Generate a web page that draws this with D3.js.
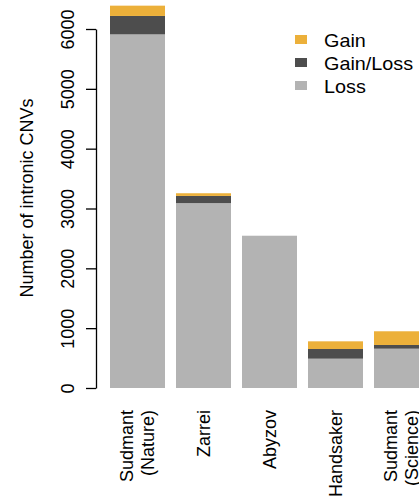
<!DOCTYPE html>
<html>
<head>
<meta charset="utf-8">
<script src="https://cdn.jsdelivr.net/npm/d3@7"></script>
<style>
  html, body { margin: 0; padding: 0; background: #fff; }
  svg text { font-family: "Liberation Sans", Arial, Helvetica, sans-serif; fill: #000; }
</style>
</head>
<body>
<svg id="chart" width="419" height="497"></svg>
<script>
// Intronic CNV counts per study, stacked by CNV type
const studies = [["Sudmant", "(Nature)"], ["Zarrei"], ["Abyzov"], ["Handsaker"], ["Sudmant", "(Science)"]];
const lossValues = [5910, 3090, 2545, 490, 657];
const gainLossValues = [308, 120, 0, 162, 62];
const gainValues = [172, 45, 0, 128, 229];
const seriesNames = ["Gain", "Gain/Loss", "Loss"];
const seriesColors = ["#ECB03A", "#4D4D4D", "#B3B3B3"];
const yTicks = [0, 1000, 2000, 3000, 4000, 5000, 6000];

const svg = d3.select("#chart");
const fontSize = 18;

const rows = studies.map((s, i) => ({
  key: i,
  Loss: lossValues[i],
  "Gain/Loss": gainLossValues[i],
  Gain: gainValues[i]
}));

const stackOrder = ["Loss", "Gain/Loss", "Gain"];
const colorOf = d3.scaleOrdinal().domain(seriesNames).range(seriesColors);
const stacked = d3.stack().keys(stackOrder)(rows);

const x = d3.scaleBand()
  .domain(rows.map(d => d.key))
  .range([110, 429])
  .paddingInner(1 / 6)
  .paddingOuter(0);

const y = d3.scaleLinear().domain([0, 6000]).range([388, 29]);

// Stacked bars
svg.append("g")
  .selectAll("g")
  .data(stacked)
  .join("g")
  .attr("fill", d => colorOf(d.key))
  .selectAll("rect")
  .data(d => d)
  .join("rect")
  .attr("x", d => x(d.data.key))
  .attr("width", x.bandwidth())
  .attr("y", d => y(d[1]))
  .attr("height", d => Math.max(0, y(d[0]) - y(d[1])));

// Y axis
const yAxis = svg.append("g")
  .attr("transform", "translate(96,0)")
  .call(d3.axisLeft(y).tickValues(yTicks).tickSize(10).tickSizeOuter(0).tickFormat(d3.format("d")));
yAxis.select(".domain").attr("stroke", "#000").attr("stroke-width", 1.3);
yAxis.selectAll(".tick line").attr("stroke", "#000").attr("stroke-width", 1.3);
yAxis.selectAll(".tick text").remove();
yAxis.selectAll(".tick")
  .append("text")
  .attr("transform", "translate(-22,0) rotate(-90)")
  .attr("text-anchor", "middle")
  .attr("font-size", fontSize)
  .text(d => d);

// Y axis title
svg.append("text")
  .attr("transform", "translate(33,198) rotate(-90)")
  .attr("text-anchor", "middle")
  .attr("font-size", fontSize)
  .text("Number of intronic CNVs");

// Category labels, rotated and hung below the bars
const lineGap = 21;
const catLabels = svg.append("g")
  .selectAll("g")
  .data(studies)
  .join("g")
  .attr("transform", (d, i) => `translate(${x(i) + x.bandwidth() / 2},410)`);
catLabels.selectAll("text")
  .data(d => d.map((line, j) => ({ line, j, n: d.length })))
  .join("text")
  .attr("transform", d => `translate(${(d.j - (d.n - 1) / 2) * lineGap},0) rotate(-90)`)
  .attr("dy", "0.35em")
  .attr("text-anchor", "end")
  .attr("font-size", fontSize)
  .text(d => d.line);

// Legend
const legend = svg.append("g")
  .selectAll("g")
  .data(seriesNames)
  .join("g")
  .attr("transform", (d, i) => `translate(295,${47 + i * 23})`);
legend.append("rect")
  .attr("x", 0)
  .attr("y", -12)
  .attr("width", 12)
  .attr("height", 9)
  .attr("fill", d => colorOf(d));
legend.append("text")
  .attr("transform", "translate(29,0) scale(1.1,1)")
  .attr("font-size", fontSize)
  .text(d => d);
</script>
</body>
</html>
